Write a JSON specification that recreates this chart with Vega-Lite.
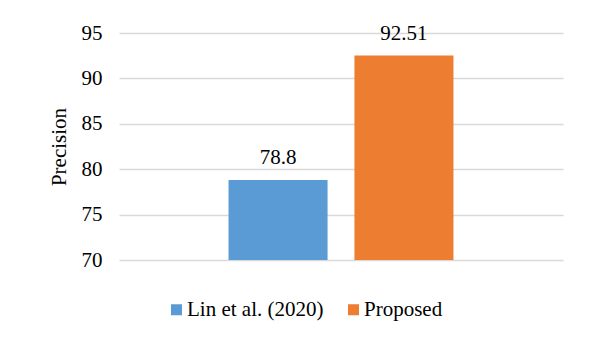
{
  "$schema": "https://vega.github.io/schema/vega-lite/v6.json",
  "width": 444,
  "height": 227,
  "autosize": "none",
  "padding": {"left": 119, "top": 33, "right": 28, "bottom": 84},
  "background": "white",
  "config": {
    "font": "Liberation Serif",
    "view": {"stroke": null}
  },
  "data": {
    "values": [
      {"method": "Lin et al. (2020)", "precision": 78.8},
      {"method": "Proposed", "precision": 92.51}
    ]
  },
  "encoding": {
    "x": {
      "field": "method",
      "type": "nominal",
      "sort": null,
      "scale": {"paddingInner": 0.2134, "paddingOuter": 0.87},
      "axis": null
    },
    "y": {
      "field": "precision",
      "type": "quantitative",
      "scale": {"domain": [70, 95], "zero": false, "nice": false},
      "axis": {
        "title": "Precision",
        "titleFont": "Liberation Serif",
        "titleFontSize": 21,
        "titleFontWeight": "normal",
        "titleColor": "#000000",
        "titlePadding": 12,
        "values": [70, 75, 80, 85, 90, 95],
        "labelFont": "Liberation Serif",
        "labelFontSize": 21,
        "labelColor": "#000000",
        "labelPadding": 17,
        "ticks": false,
        "tickSize": 0,
        "domain": false,
        "grid": true,
        "gridColor": "#D9D9D9",
        "gridWidth": 1.5
      }
    }
  },
  "layer": [
    {
      "mark": {"type": "bar"},
      "encoding": {
        "y2": {"datum": 70},
        "color": {
          "field": "method",
          "type": "nominal",
          "sort": null,
          "scale": {"range": ["#5B9BD5", "#ED7D31"]},
          "legend": {
            "title": null,
            "orient": "none",
            "direction": "horizontal",
            "legendX": 47,
            "legendY": 266,
            "symbolType": "square",
            "symbolSize": 121,
            "symbolStrokeWidth": 0,
            "symbolOpacity": 1,
            "labelFont": "Liberation Serif",
            "labelFontSize": 21,
            "labelColor": "#000000",
            "labelOffset": 0,
            "columnPadding": 19
          }
        }
      }
    },
    {
      "mark": {
        "type": "text",
        "dy": -16,
        "baseline": "alphabetic",
        "font": "Liberation Serif",
        "fontSize": 21,
        "color": "#000000"
      },
      "encoding": {
        "text": {"field": "precision", "type": "quantitative"}
      }
    }
  ]
}
